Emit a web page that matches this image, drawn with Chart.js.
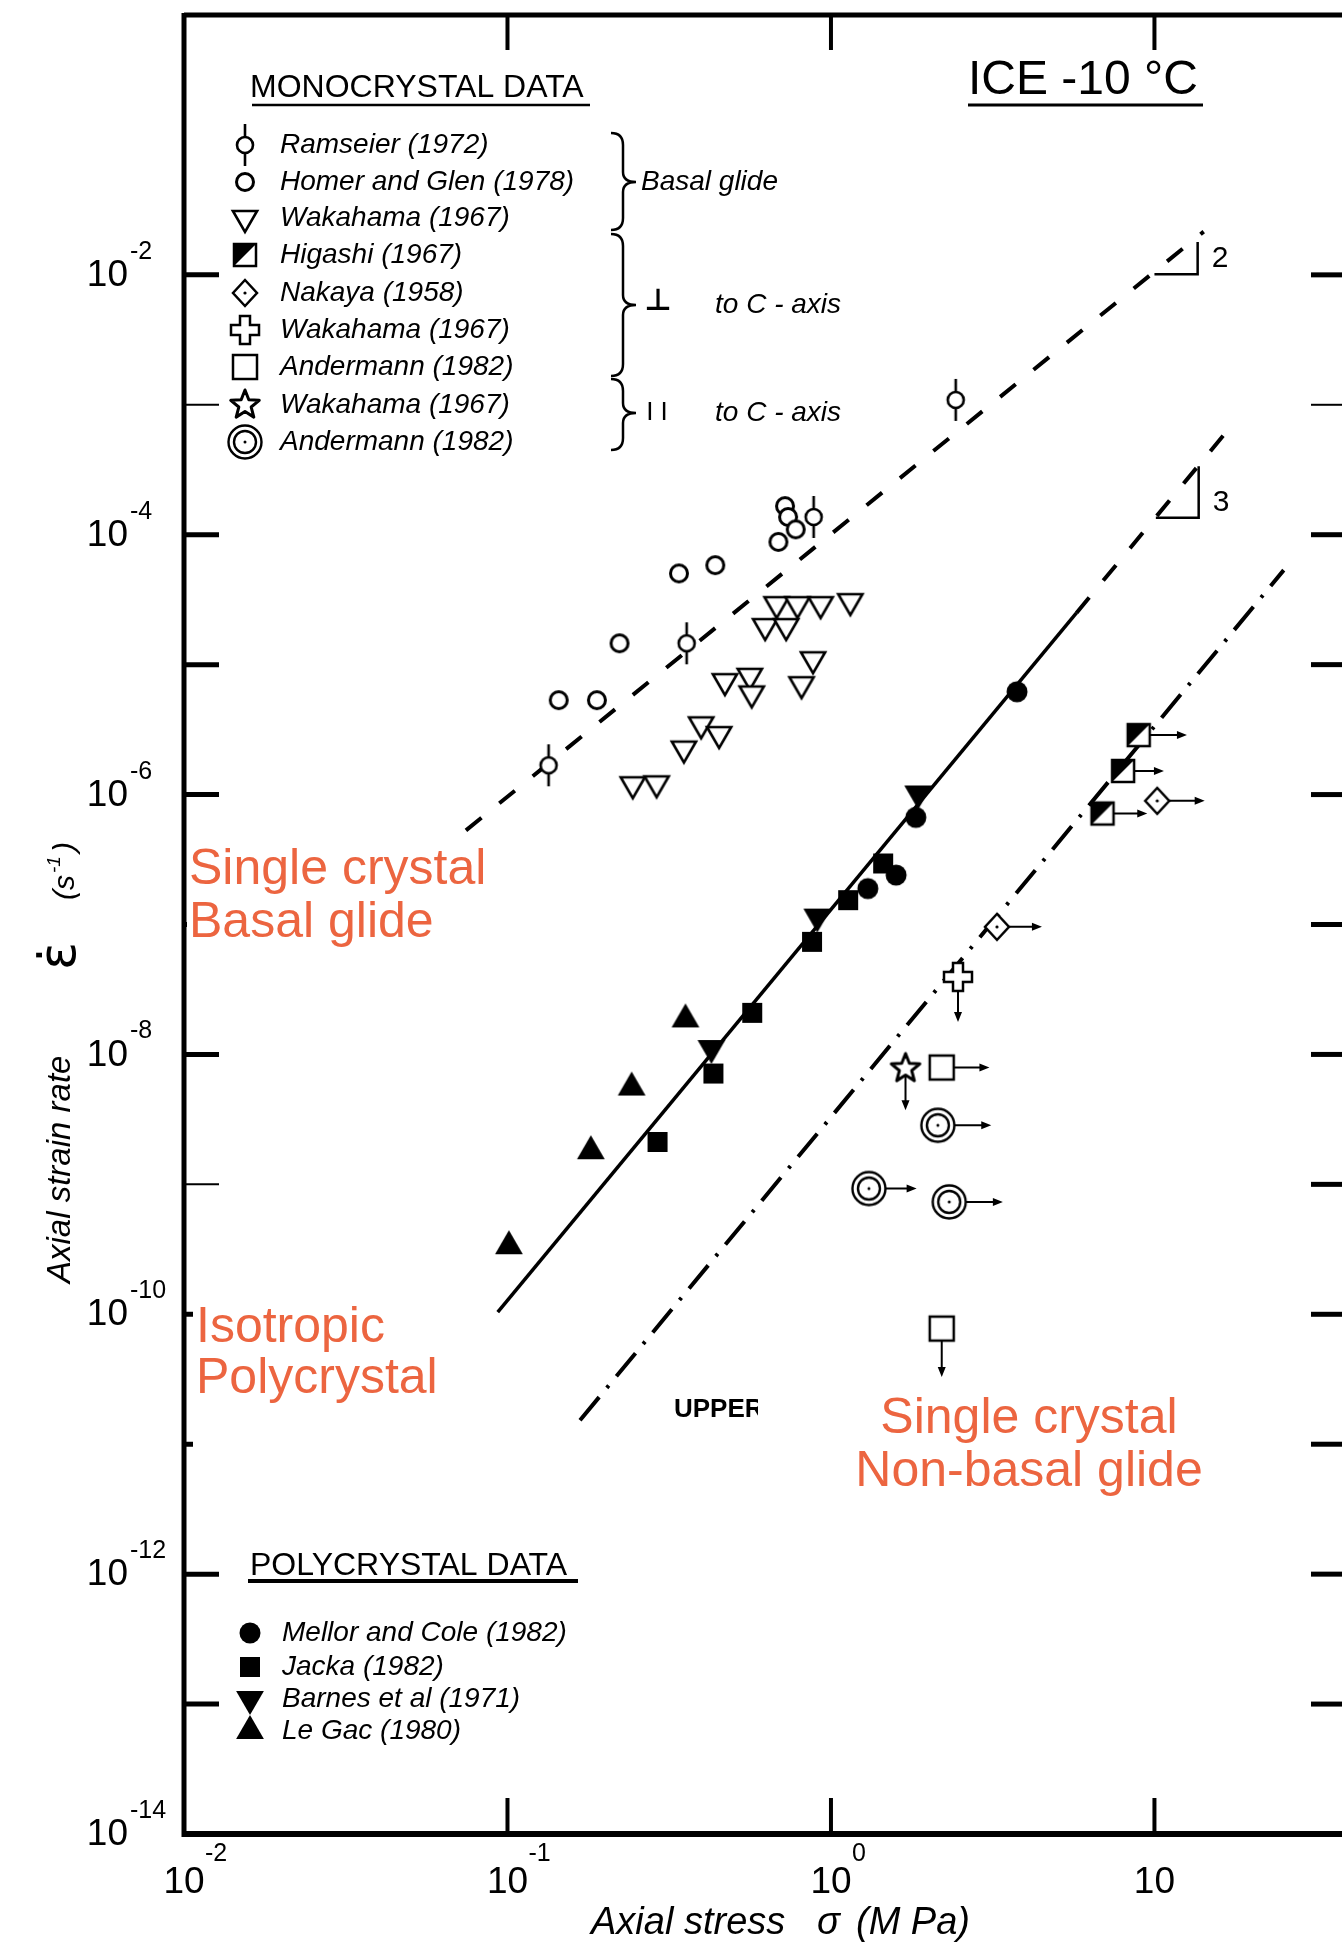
<!DOCTYPE html>
<html>
<head>
    <title>Ice -10 C : strain rate vs stress</title>
    <style>
        body { margin: 0; background: #fff; }
        #chart { display: block; }
    </style>
    <script src="https://cdn.jsdelivr.net/npm/chart.js"></script>
</head>
<body>
    <canvas id="chart" width="1342" height="1943"></canvas>

    <script>
        // stress in MPa, strain rate in 1/s

        // monocrystal, basal glide
        const ramseierStress = [0.134, 0.358, 0.884, 2.43];
        const ramseierRate = [1.68e-6, 1.46e-5, 1.37e-4, 1.09e-3];
        const homerStress = [0.144, 0.189, 0.222, 0.339, 0.439, 0.688, 0.721, 0.737, 0.778];
        const homerRate = [5.33e-6, 5.33e-6, 1.46e-5, 5.04e-5, 5.83e-5, 8.8e-5, 1.66e-4, 1.37e-4, 1.10e-4];
        const wakaBasalStress = [0.244, 0.289, 0.351, 0.397, 0.451, 0.470, 0.561, 0.569, 0.626, 0.727, 0.679, 0.788, 0.929, 1.148, 0.880, 0.811];
        const wakaBasalRate = [1.20e-6, 1.22e-6, 2.26e-6, 3.47e-6, 2.92e-6, 7.46e-6, 8.20e-6, 6.0e-6, 1.98e-5, 1.98e-5, 2.92e-5, 2.92e-5, 2.92e-5, 3.08e-5, 1.10e-5, 7.07e-6];

        // monocrystal, perpendicular to c-axis
        const higashiStress = [8.94, 8.00, 6.91];
        const higashiRate = [2.87e-6, 1.52e-6, 7.15e-7];
        const higashiLimit = [12.6, 10.7, 9.5];
        const nakayaStress = [10.2, 3.26];
        const nakayaRate = [8.95e-7, 9.59e-8];
        const nakayaLimit = [14.3, 4.49];
        const wakaPerpStress = [2.47];
        const wakaPerpRate = [3.95e-8];
        const wakaPerpLimitRate = [1.78e-8];
        const anderPerpStress = [2.20, 2.20];
        const anderPerpRate = [7.93e-9, 7.76e-11];
        const anderPerpLimitStress = [3.09, null];
        const anderPerpLimitRate = [null, 3.29e-11];

        // monocrystal, parallel to c-axis
        const wakaParStress = [1.70];
        const wakaParRate = [7.79e-9];
        const wakaParLimitRate = [3.72e-9];
        const anderParStress = [2.14, 1.31, 2.32];
        const anderParRate = [2.85e-9, 9.29e-10, 7.33e-10];
        const anderParLimit = [3.13, 1.84, 3.40];

        // polycrystal
        const mellorStress = [3.76, 1.83, 1.59, 1.30];
        const mellorRate = [6.18e-6, 6.67e-7, 2.40e-7, 1.89e-7];
        const jackaStress = [1.45, 1.13, 0.874, 0.571, 0.433, 0.291];
        const jackaRate = [2.95e-7, 1.54e-7, 7.35e-8, 2.09e-8, 7.13e-9, 2.12e-9];
        const barnesStress = [1.86, 0.907, 0.427];
        const barnesRate = [1.02e-6, 1.15e-7, 1.12e-8];
        const legacStress = [0.355, 0.242, 0.181, 0.101];
        const legacRate = [1.86e-8, 5.56e-9, 1.80e-9, 3.34e-10];

        // fitted power laws (end points) and slope markers
        const basalFitStress = [0.0744, 14.2];
        const basalFitRate = [5.3e-7, 2.15e-2];
        const polyFitStress = [0.0933, 5.74];
        const polyFitRate = [1.04e-10, 2.50e-5];
        const polyExtStress = [5.74, 17.1];
        const polyExtRate = [2.50e-5, 6.67e-4];
        const nonBasalFitStress = [0.1676, 25.1];
        const nonBasalFitRate = [1.53e-11, 5.34e-5];
        const slope2Stress = [10.0, 13.6, 13.6];
        const slope2Rate = [1.01e-2, 1.01e-2, 1.79e-2];
        const slope3Stress = [10.1, 13.7, 13.7];
        const slope3Rate = [1.35e-4, 1.35e-4, 3.36e-4];

        // axes
        const stressMin = 0.01, stressMax = 38;
        const rateMin = 1e-14, rateMax = 1;
        const stressTickExps = [-1, 0, 1];
        const stressLabelExps = [-2, -1, 0, 1];
        const stressLabelSups = ['-2', '-1', '0', ''];
        const rateTickExps = [-2, -3, -4, -5, -6, -7, -8, -9, -10, -11, -12, -13];
        const rateThinLeft = [-3, -9];
        const rateThinRight = [-3];
        const rateLabelExps = [-2, -4, -6, -8, -10, -12, -14];

        const monoNames = ['Ramseier (1972)', 'Homer and Glen (1978)', 'Wakahama (1967)', 'Higashi (1967)',
            'Nakaya (1958)', 'Wakahama (1967)', 'Andermann (1982)', 'Wakahama (1967)', 'Andermann (1982)'];
        const polyNames = ['Mellor and Cole (1982)', 'Jacka (1982)', 'Barnes et al (1971)', 'Le Gac (1980)'];

        const FONT = '"Liberation Sans", Arial, sans-serif';
        const RED = '#EC6540';

        // ---- marker symbols, drawn once into small canvases ----
        function makeIcon(size, draw) {
            const c = document.createElement('canvas');
            c.width = size;
            c.height = size;
            const g = c.getContext('2d');
            g.translate(size / 2, size / 2);
            g.strokeStyle = '#000';
            g.fillStyle = '#fff';
            draw(g);
            return c;
        }
        function path(g, p) {
            g.beginPath();
            g.moveTo(p[0][0], p[0][1]);
            for (let i = 1; i < p.length; i++) g.lineTo(p[i][0], p[i][1]);
            g.closePath();
        }
        function ring(g, r) {
            g.beginPath();
            g.arc(0, 0, r, 0, Math.PI * 2);
        }

        const icons = {
            ramseier: makeIcon(50, g => {
                g.lineWidth = 2.6;
                g.beginPath(); g.moveTo(0, -21); g.lineTo(0, 21); g.stroke();
                ring(g, 8); g.fill(); g.stroke();
            }),
            openCircle: makeIcon(26, g => {
                g.lineWidth = 3;
                ring(g, 8.5); g.fill(); g.stroke();
            }),
            openTriDown: makeIcon(36, g => {
                g.lineWidth = 2.6;
                path(g, [[-12.1, -7], [12.1, -7], [0, 14]]); g.fill(); g.stroke();
            }),
            halfSquare: makeIcon(30, g => {
                g.lineWidth = 2.5;
                g.fillRect(-11, -11, 22, 22);
                g.fillStyle = '#000';
                path(g, [[-11, -11], [11, -11], [-11, 11]]); g.fill();
                g.strokeRect(-11, -11, 22, 22);
            }),
            diamond: makeIcon(34, g => {
                g.lineWidth = 2.5;
                path(g, [[0, -13], [12, 0], [0, 13], [-12, 0]]); g.fill(); g.stroke();
                g.fillStyle = '#000';
                ring(g, 1.6); g.fill();
            }),
            openCross: makeIcon(36, g => {
                const a = 5, L = 14;
                g.lineWidth = 2.5;
                path(g, [[-a, -L], [a, -L], [a, -a], [L, -a], [L, a], [a, a], [a, L], [-a, L],
                    [-a, a], [-L, a], [-L, -a], [-a, -a]]);
                g.fill(); g.stroke();
            }),
            openSquare: makeIcon(32, g => {
                g.lineWidth = 2.5;
                g.fillRect(-12, -12, 24, 24);
                g.strokeRect(-12, -12, 24, 24);
            }),
            openStar: makeIcon(38, g => {
                const p = [];
                for (let i = 0; i < 10; i++) {
                    const ang = -Math.PI / 2 + i * Math.PI / 5;
                    const r = i % 2 ? 6.5 : 15;
                    p.push([r * Math.cos(ang), r * Math.sin(ang)]);
                }
                g.lineWidth = 3;
                g.lineJoin = 'round';
                path(g, p); g.fill(); g.stroke();
            }),
            doubleCircle: makeIcon(42, g => {
                g.lineWidth = 2.4;
                ring(g, 16.5); g.fill(); g.stroke();
                ring(g, 11); g.stroke();
                g.fillStyle = '#000';
                ring(g, 1.5); g.fill();
            }),
            dot: makeIcon(26, g => {
                g.fillStyle = '#000';
                ring(g, 10.5); g.fill();
            }),
            block: makeIcon(26, g => {
                g.fillStyle = '#000';
                g.fillRect(-10, -10, 20, 20);
            }),
            triDown: makeIcon(38, g => {
                g.fillStyle = '#000';
                path(g, [[-13.9, -8], [13.9, -8], [0, 16]]); g.fill();
            }),
            triUp: makeIcon(38, g => {
                g.fillStyle = '#000';
                path(g, [[0, -16], [13.9, 8], [-13.9, 8]]); g.fill();
            })
        };

        const monoIcons = [icons.ramseier, icons.openCircle, icons.openTriDown, icons.halfSquare, icons.diamond,
            icons.openCross, icons.openSquare, icons.openStar, icons.doubleCircle];
        const polyIcons = [icons.dot, icons.block, icons.triDown, icons.triUp];

        function pts(xs, ys) {
            return xs.map((v, i) => ({ x: v, y: ys[i] }));
        }
        function markers(xs, ys, icon) {
            return { data: pts(xs, ys), pointStyle: icon, pointRadius: 12, pointHoverRadius: 12, showLine: false };
        }
        function fitLine(xs, ys, width, dash) {
            return {
                data: pts(xs, ys), showLine: true, pointRadius: 0, pointHoverRadius: 0,
                borderColor: '#000', borderWidth: width, borderDash: dash, fill: false
            };
        }

        // ---- frame, ticks, arrows, labels and keys ----
        function segment(ctx, x0, y0, x1, y1) {
            ctx.beginPath();
            ctx.moveTo(x0, y0);
            ctx.lineTo(x1, y1);
            ctx.stroke();
        }
        function arrow(ctx, x0, y0, x1, y1) {
            const ang = Math.atan2(y1 - y0, x1 - x0);
            ctx.lineWidth = 2;
            segment(ctx, x0, y0, x1 - 6 * Math.cos(ang), y1 - 6 * Math.sin(ang));
            ctx.save();
            ctx.translate(x1, y1);
            ctx.rotate(ang);
            ctx.beginPath();
            ctx.moveTo(0, 0);
            ctx.lineTo(-10, -4);
            ctx.lineTo(-10, 4);
            ctx.closePath();
            ctx.fill();
            ctx.restore();
        }
        function brace(ctx, x, y0, y1, ym) {
            ctx.beginPath();
            ctx.moveTo(x - 12, y0);
            ctx.quadraticCurveTo(x, y0, x, y0 + 12);
            ctx.lineTo(x, ym - 10);
            ctx.quadraticCurveTo(x, ym, x + 13, ym);
            ctx.quadraticCurveTo(x, ym, x, ym + 10);
            ctx.lineTo(x, y1 - 12);
            ctx.quadraticCurveTo(x, y1, x - 12, y1);
            ctx.stroke();
        }

        const decor = {
            id: 'decor',
            beforeDatasetsDraw(chart) {
                const { ctx, scales: { x, y } } = chart;
                ctx.save();
                ctx.strokeStyle = '#000';
                ctx.fillStyle = '#000';
                const right = (xs, ys, lim) => xs.forEach((v, i) => {
                    if (lim[i] == null) return;
                    const py = y.getPixelForValue(ys[i]);
                    arrow(ctx, x.getPixelForValue(v), py, x.getPixelForValue(lim[i]), py);
                });
                const down = (xs, ys, lim) => xs.forEach((v, i) => {
                    if (lim[i] == null) return;
                    const px = x.getPixelForValue(v);
                    arrow(ctx, px, y.getPixelForValue(ys[i]), px, y.getPixelForValue(lim[i]));
                });
                right(higashiStress, higashiRate, higashiLimit);
                right(nakayaStress, nakayaRate, nakayaLimit);
                right(anderPerpStress, anderPerpRate, anderPerpLimitStress);
                right(anderParStress, anderParRate, anderParLimit);
                down(wakaPerpStress, wakaPerpRate, wakaPerpLimitRate);
                down(anderPerpStress, anderPerpRate, anderPerpLimitRate);
                down(wakaParStress, wakaParRate, wakaParLimitRate);
                ctx.restore();
            },
            afterDatasetsDraw(chart) {
                const { ctx, chartArea: area, scales: { x, y } } = chart;
                ctx.save();
                ctx.strokeStyle = '#000';
                ctx.fillStyle = '#000';
                ctx.lineCap = 'butt';

                // ticks on all four sides
                rateTickExps.forEach(e => {
                    const py = y.getPixelForValue(Math.pow(10, e));
                    ctx.lineWidth = rateThinLeft.includes(e) ? 2 : 5;
                    segment(ctx, area.left, py, area.left + 35, py);
                    ctx.lineWidth = rateThinRight.includes(e) ? 2 : 5;
                    segment(ctx, area.right - 31, py, area.right, py);
                });
                ctx.lineWidth = 4;
                stressTickExps.forEach(e => {
                    const px = x.getPixelForValue(Math.pow(10, e));
                    segment(ctx, px, area.top, px, area.top + 35);
                    segment(ctx, px, area.bottom, px, area.bottom - 36);
                });

                // frame (right edge runs off the page)
                ctx.lineWidth = 5;
                segment(ctx, area.left, area.top, area.right, area.top);
                segment(ctx, area.left, area.top - 2, area.left, area.bottom + 3);
                ctx.lineWidth = 6;
                segment(ctx, area.left - 2, area.bottom, area.right, area.bottom);

                ctx.font = 'bold 26px ' + FONT;
                ctx.textBaseline = 'alphabetic';
                ctx.fillText('UPPER', 674, 1417);

                // region labels sit on white boxes
                ctx.fillStyle = '#fff';
                ctx.fillRect(187, 838, 310, 112);
                ctx.fillRect(193, 1292, 255, 162);
                ctx.fillRect(758, 1388, 460, 112);
                ctx.fillStyle = RED;
                ctx.font = '50px ' + FONT;
                ctx.textAlign = 'left';
                ctx.fillText('Single crystal', 189, 884);
                ctx.fillText('Basal glide', 189, 937);
                ctx.fillText('Isotropic', 196, 1342);
                ctx.fillText('Polycrystal', 196, 1393);
                ctx.textAlign = 'center';
                ctx.fillText('Single crystal', 1029, 1433);
                ctx.fillText('Non-basal glide', 1029, 1486);
                ctx.fillStyle = '#000';

                // tick labels
                rateLabelExps.forEach(e => {
                    const py = y.getPixelForValue(Math.pow(10, e));
                    ctx.font = '37px ' + FONT;
                    ctx.textAlign = 'right';
                    ctx.textBaseline = 'middle';
                    ctx.fillText('10', 128, py + 1);
                    ctx.font = '25px ' + FONT;
                    ctx.textAlign = 'left';
                    ctx.textBaseline = 'alphabetic';
                    ctx.fillText(String(e), 130, py - 16);
                });
                stressLabelExps.forEach((e, i) => {
                    const px = x.getPixelForValue(Math.pow(10, e));
                    ctx.font = '37px ' + FONT;
                    ctx.textAlign = 'center';
                    ctx.textBaseline = 'middle';
                    ctx.fillText('10', px, 1883);
                    ctx.font = '25px ' + FONT;
                    ctx.textAlign = 'left';
                    ctx.textBaseline = 'alphabetic';
                    ctx.fillText(stressLabelSups[i], px + 21, 1861);
                });

                // axis titles
                ctx.textAlign = 'left';
                ctx.textBaseline = 'alphabetic';
                ctx.font = 'italic 38px ' + FONT;
                ctx.fillText('Axial stress', 591, 1934);
                ctx.fillText('σ', 817, 1934);
                ctx.fillText('(M Pa)', 856, 1934);

                ctx.save();
                ctx.translate(70, 1283);
                ctx.rotate(-Math.PI / 2);
                ctx.font = 'italic 33px ' + FONT;
                ctx.fillText('Axial strain rate', 0, 0);
                ctx.font = '52px "DejaVu Sans"';
                ctx.fillText('\u03B5\u0307', 313, 5);
                ctx.font = 'italic 30px ' + FONT;
                ctx.fillText('(s', 383, 4);
                const sw = ctx.measureText('(s').width;
                ctx.font = 'italic 19px ' + FONT;
                ctx.fillText('-1', 383 + sw + 2, -10);
                const ew = ctx.measureText('-1').width;
                ctx.font = 'italic 30px ' + FONT;
                ctx.fillText(')', 383 + sw + ew + 6, 4);
                ctx.restore();

                // slope markers
                ctx.font = '30px ' + FONT;
                [[slope2Stress, slope2Rate, '2'], [slope3Stress, slope3Rate, '3']].forEach(([xs, ys, t]) => {
                    ctx.fillText(t, x.getPixelForValue(xs[1]) + 14, y.getPixelForValue(ys[0]) - 7);
                });

                // title
                ctx.font = '48px ' + FONT;
                ctx.fillText('ICE -10 °C', 968, 94);
                ctx.lineWidth = 3;
                segment(ctx, 968, 105, 1203, 105);

                // monocrystal key
                ctx.font = '32px ' + FONT;
                ctx.fillText('MONOCRYSTAL DATA', 250, 97);
                ctx.lineWidth = 2.5;
                segment(ctx, 252, 105, 590, 105);
                const monoRows = [145, 182, 218, 255, 293, 330, 367, 405, 442];
                ctx.font = 'italic 28px ' + FONT;
                ctx.textBaseline = 'middle';
                monoNames.forEach((name, i) => {
                    const ic = monoIcons[i];
                    ctx.drawImage(ic, 245 - ic.width / 2, monoRows[i] - ic.height / 2);
                    ctx.fillText(name, 280, monoRows[i]);
                });
                ctx.lineWidth = 2.5;
                brace(ctx, 623, 133, 230, 182);
                brace(ctx, 623, 234, 376, 305);
                brace(ctx, 623, 379, 450, 413);
                ctx.fillText('Basal glide', 641, 182);
                ctx.fillText('to C - axis', 715, 305);
                ctx.fillText('to C - axis', 715, 413);
                ctx.textAlign = 'center';
                ctx.font = 'bold 30px "DejaVu Sans"';
                ctx.fillText('\u22A5', 658, 302);
                ctx.font = '26px ' + FONT;
                ctx.fillText('I I', 657, 413);

                // polycrystal key
                ctx.textAlign = 'left';
                ctx.textBaseline = 'alphabetic';
                ctx.font = '32px ' + FONT;
                ctx.fillText('POLYCRYSTAL DATA', 250, 1575);
                ctx.lineWidth = 4;
                segment(ctx, 248, 1581, 578, 1581);
                const polyRows = [1633, 1667, 1699, 1731];
                ctx.font = 'italic 28px ' + FONT;
                ctx.textBaseline = 'middle';
                polyNames.forEach((name, i) => {
                    const ic = polyIcons[i];
                    ctx.drawImage(ic, 250 - ic.width / 2, polyRows[i] - ic.height / 2);
                    ctx.fillText(name, 282, polyRows[i]);
                });
                ctx.restore();
            }
        };

        // datasets listed first are painted last (on top)
        const ctx = document.getElementById('chart').getContext('2d');
        const myChart = new Chart(ctx, {
            type: 'scatter',
            data: {
                datasets: [
                    markers(ramseierStress, ramseierRate, icons.ramseier),
                    markers(homerStress, homerRate, icons.openCircle),
                    markers(wakaBasalStress, wakaBasalRate, icons.openTriDown),
                    markers(higashiStress, higashiRate, icons.halfSquare),
                    markers(nakayaStress, nakayaRate, icons.diamond),
                    markers(wakaPerpStress, wakaPerpRate, icons.openCross),
                    markers(anderPerpStress, anderPerpRate, icons.openSquare),
                    markers(wakaParStress, wakaParRate, icons.openStar),
                    markers(anderParStress, anderParRate, icons.doubleCircle),
                    markers(mellorStress, mellorRate, icons.dot),
                    markers(jackaStress, jackaRate, icons.block),
                    markers(barnesStress, barnesRate, icons.triDown),
                    markers(legacStress, legacRate, icons.triUp),
                    fitLine(slope2Stress, slope2Rate, 2.5, []),
                    fitLine(slope3Stress, slope3Rate, 2.5, []),
                    fitLine(basalFitStress, basalFitRate, 4, [20, 23]),
                    fitLine(polyFitStress, polyFitRate, 3.5, []),
                    fitLine(polyExtStress, polyExtRate, 4, [20, 22]),
                    fitLine(nonBasalFitStress, nonBasalFitRate, 4, [30, 12, 3, 12])
                ]
            },
            options: {
                responsive: false,
                animation: false,
                layout: { autoPadding: false, padding: { left: 184, right: 0, top: 15, bottom: 109 } },
                plugins: { legend: { display: false }, tooltip: { enabled: false } },
                scales: {
                    x: { type: 'logarithmic', display: false, min: stressMin, max: stressMax },
                    y: { type: 'logarithmic', display: false, min: rateMin, max: rateMax }
                }
            },
            plugins: [decor]
        });
    </script>
</body>
</html>
